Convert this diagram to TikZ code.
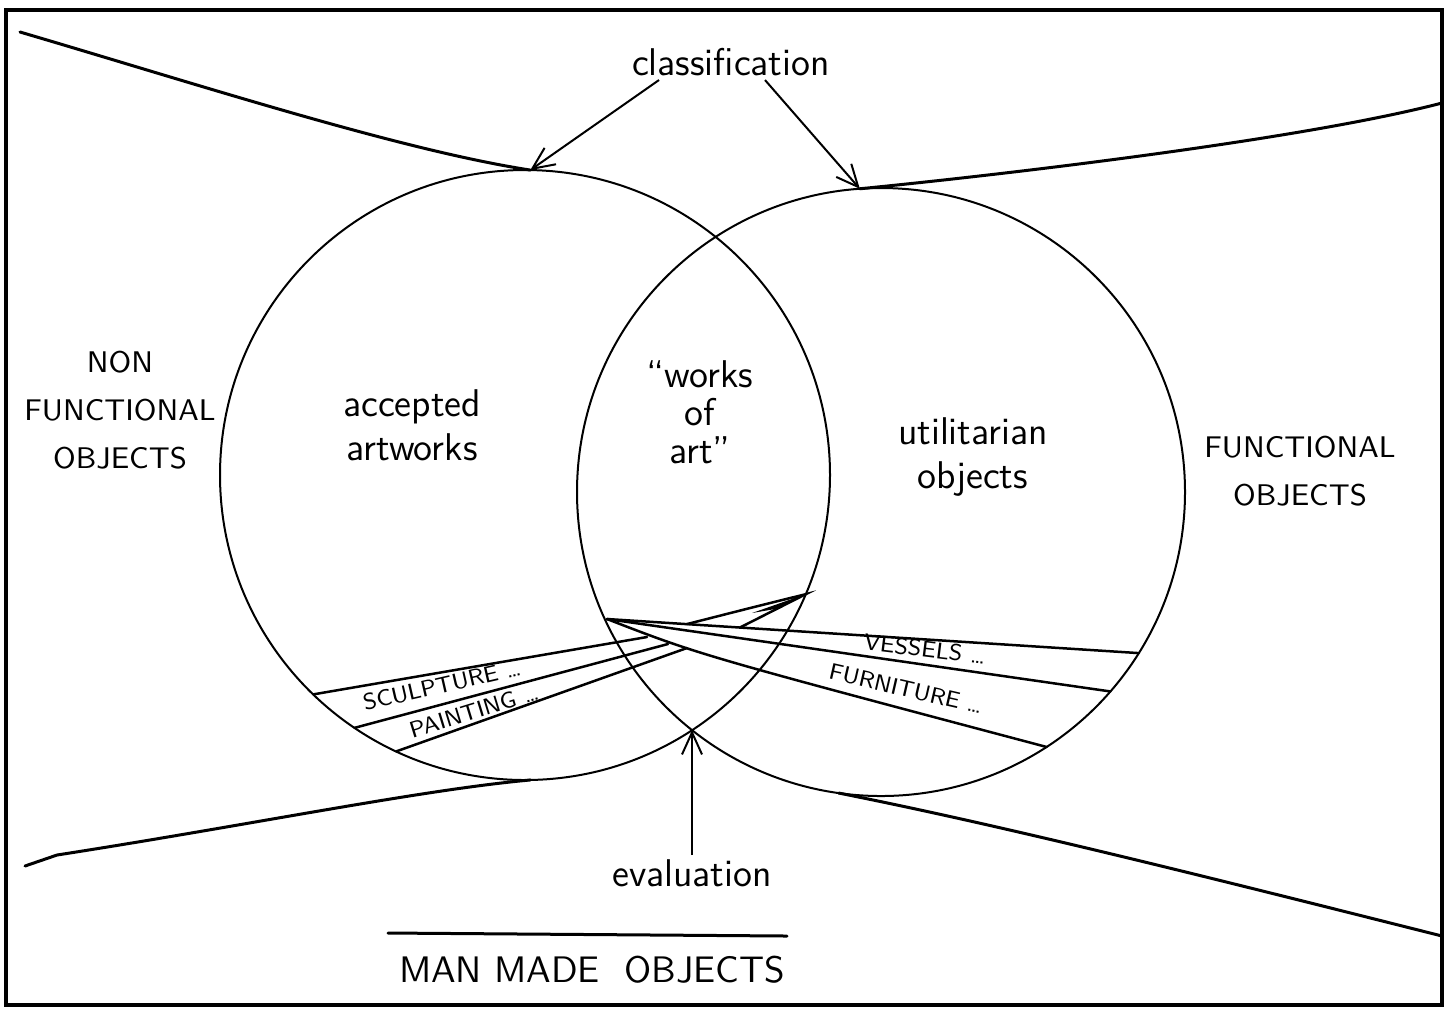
\documentclass[tikz,border=0pt]{standalone}
\usepackage{tikz}
\usetikzlibrary{arrows.meta,positioning,calc}

\begin{document}
\begin{tikzpicture}[x=0.1mm, y=-0.1mm,
  setring/.style={draw, circle, line width=0.2mm, inner sep=0pt, outer sep=0pt},
  edge/.style={line width=0.3mm, line cap=round},
  arr/.style={-{Straight Barb[length=2.2mm, width=2mm]}, line width=0.2mm},
  strip/.style={line width=0.25mm, line cap=round},
  word/.style={font=\sffamily\fontsize{11}{12.5}\selectfont, align=center, inner sep=1pt},
  caps/.style={font=\sffamily\fontsize{8.5}{13.6}\selectfont, align=center, inner sep=1pt},
  kind/.style={font=\sffamily\fontsize{6.5}{7}\selectfont, inner sep=0pt}
]
  \useasboundingbox (0,0) rectangle (1451,1011);
  \draw[line width=0.35mm] (6,10) rectangle (1442,1005);

  % the two sets
  \node[setring, minimum size=61mm] (artset) at (525,475) {};
  \node[setring, minimum size=60.8mm] (utilset) at (881,492) {};
  \coordinate (lowmeet) at (692,730);

  % boundary of man made objects
  \draw[edge] (20,32) .. controls (200,85) and (400,150) .. (artset.89);
  \draw[edge] (utilset.94) .. controls (1000,175) and (1300,140) .. (1442,103);
  \draw[edge] (25,866) -- (57,855) .. controls (250,825) and (420,790) .. (artset.-89);
  \draw[edge] (utilset.-98) .. controls (1000,825) and (1200,875) .. (1442,936);

  % labels
  \node[word] (classif) at (731,62) {classification};
  \draw[arr] ([xshift=-7.2mm]classif.south) -- (artset.89);
  \draw[arr] ([xshift=3.4mm]classif.south) -- (utilset.94);

  \node[caps] (nonfunc) at (120,410) {NON\\FUNCTIONAL\\OBJECTS};
  \node[caps] (func) at (1300,471) {FUNCTIONAL\\OBJECTS};
  \node[word] (accepted) at (412,425) {accepted\\artworks};
  \node[word, font=\sffamily\fontsize{11}{10.8}\selectfont] (worksart) at (700,412) {``works\\of\\art''};
  \node[word] (utilit) at (973,457) {utilitarian\\objects};

  \node[word] (evalu) at (692,873) {evaluation};
  \draw[arr] (evalu.north) -- (lowmeet);

  \coordinate (barl) at (388,933);
  \coordinate (barr) at (787,936);
  \draw[edge] (barl) -- (barr);
  \node[caps, font=\sffamily\fontsize{10.5}{13}\selectfont] (manmade) at (592,970) {MAN MADE\ \ OBJECTS};

  % strips of kinds
  \coordinate (hub) at (607,619);
  \draw[strip] (hub) -- (utilset.-32);
  \draw[strip] (hub) -- (utilset.-41);
  \draw[strip] (hub) .. controls (700,655) .. (utilset.-57);

  \coordinate (sculend) at (647,637);
  \coordinate (paintend) at (668,644);
  \coordinate (lowend) at (687,648);
  \draw[strip] (artset.226) -- (sculend);
  \draw[strip] (artset.236) -- (paintend);
  \draw[strip] (artset.245) -- (lowend);

  \coordinate (spiketip) at (artset.-23.5);
  \coordinate (spikea) at ($(hub)!0.15!(utilset.-32)$);
  \coordinate (spikeb) at ($(hub)!0.25!(utilset.-32)$);
  \draw[strip] (spikea) .. controls (750,608) .. (spiketip) -- (spikeb);
  \fill (spiketip) -- (752,613) -- (775,609) -- cycle;

  \node[kind, rotate=13] (sculpt) at (442,685) {SCULPTURE\ \ldots};
  \node[kind, rotate=17] (paint) at (474,711) {PAINTING\ \ldots};
  \node[kind, rotate=-7] (vessel) at (925,649) {VESSELS\ \ldots};
  \node[kind, rotate=-13] (furnit) at (906,689) {FURNITURE\ \ldots};
\end{tikzpicture}
\end{document}
